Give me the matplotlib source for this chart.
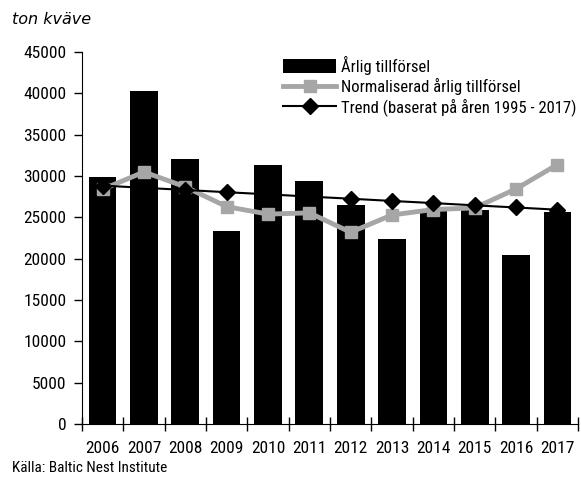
import matplotlib
matplotlib.use("Agg")
import matplotlib.pyplot as plt
from matplotlib import font_manager
import numpy as np

years = ["2006", "2007", "2008", "2009", "2010", "2011",
         "2012", "2013", "2014", "2015", "2016", "2017"]
arlig = [29900, 40300, 32100, 23400, 31400, 29400,
         26500, 22400, 26000, 25900, 20400, 25600]
normaliserad = [28400, 30500, 28700, 26300, 25400, 25550,
                23200, 25300, 25950, 26150, 28450, 31400]
trend = [28850, 28580, 28320, 28050, 27790, 27520,
         27260, 26990, 26730, 26460, 26200, 25930]
yticks = [0, 5000, 10000, 15000, 20000, 25000, 30000, 35000, 40000, 45000]

installed = {f.name for f in font_manager.fontManager.ttflist}
narrow = next((f for f in ["Liberation Sans Narrow", "Roboto Condensed",
                           "DejaVu Sans Condensed", "Liberation Sans"]
               if f in installed), "DejaVu Sans")
plt.rcParams["font.family"] = [narrow, "DejaVu Sans"]

fig = plt.figure(figsize=(5.81, 4.79), dpi=100)
ax = fig.add_axes([0.141, 0.1148, 0.854, 0.7764])

x = np.arange(len(years))
bars = ax.bar(x, arlig, width=0.67, color="black", label="Årlig tillförsel", zorder=2)
norm_line, = ax.plot(x, normaliserad, color="#a6a6a6", lw=3.5, marker="s", ms=9,
                     label="Normaliserad årlig tillförsel", zorder=3)
trend_line, = ax.plot(x, trend, color="black", lw=1.5, marker="D", ms=8,
                      label="Trend (baserat på åren 1995 - 2017)", zorder=4)

ax.set_xlim(-0.5, len(years) - 0.5)
ax.set_ylim(0, 45000)
ax.set_yticks(yticks)
ax.set_yticklabels([str(v) for v in yticks], fontsize=12.5)
ax.set_xticks(x)
ax.set_xticklabels(years, fontsize=12.5)
ax.set_xticks(np.arange(-0.5, len(years)), minor=True)
ax.tick_params(axis="x", which="major", length=0, pad=12)
ax.tick_params(axis="x", which="minor", direction="inout", length=10, width=1)
ax.tick_params(axis="y", direction="out", length=6, width=1, pad=5)
for s in ("top", "right"):
    ax.spines[s].set_visible(False)

ax.legend(handles=[bars, norm_line, trend_line], loc="upper left",
          bbox_to_anchor=(0.405, 0.99), frameon=False, fontsize=12,
          handlelength=3.2, handleheight=0.9, handletextpad=0.3,
          labelspacing=0.2, borderaxespad=0, borderpad=0)

fig.text(0.02, 0.96, "ton kväve", fontsize=11.5, style="italic",
         family="DejaVu Sans", va="center")
fig.text(0.02, 0.022, "Källa: Baltic Nest Institute", fontsize=11, va="center")

fig.savefig("out.png", dpi=100)
